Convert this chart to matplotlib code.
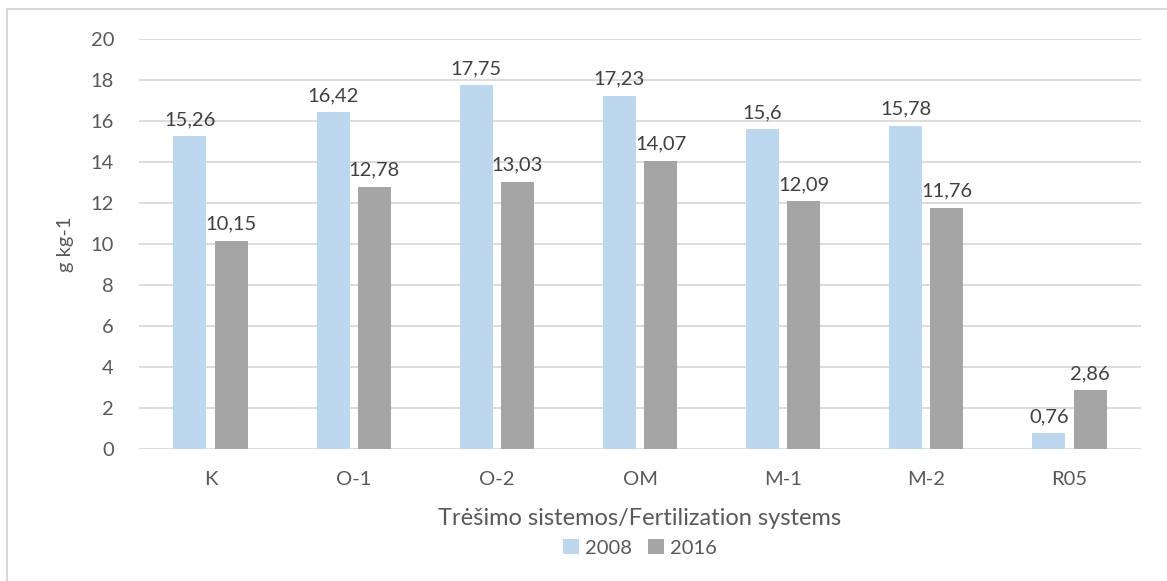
import numpy as np
import matplotlib
matplotlib.use('Agg')
import matplotlib.pyplot as plt
from matplotlib.patches import Rectangle

plt.rcParams['font.family'] = ['Lato', 'DejaVu Sans']

categories = ['K', 'O-1', 'O-2', 'OM', 'M-1', 'M-2', 'R05']
values_2008 = [15.26, 16.42, 17.75, 17.23, 15.6, 15.78, 0.76]
values_2016 = [10.15, 12.78, 13.03, 14.07, 12.09, 11.76, 2.86]
series_names = ['2008', '2016']
y_ticks = [0, 2, 4, 6, 8, 10, 12, 14, 16, 18, 20]

col_2008 = '#BDD7EE'
col_2016 = '#A5A5A5'
txt = '#595959'

def fmt(v):
    # decimal comma like the original
    return ('%g' % v).replace('.', ',')

fig = plt.figure(figsize=(11.67, 5.81), dpi=100)
# chart area border
fig.patches.append(Rectangle((7 / 1167, -0.1), 1.2, 1 - 9 / 581 + 0.1,
                             transform=fig.transFigure, fill=False,
                             edgecolor='#D9D9D9', linewidth=1.5))

ax = fig.add_axes([139 / 1167, 1 - 449 / 581, 1002 / 1167, 410 / 581])

x = np.arange(len(categories))
w = 0.23
off = 0.144
b1 = ax.bar(x - off, values_2008, w, color=col_2008, label=series_names[0], zorder=3)
b2 = ax.bar(x + off, values_2016, w, color=col_2016, label=series_names[1], zorder=3)

for bars, vals in ((b1, values_2008), (b2, values_2016)):
    for r, v in zip(bars, vals):
        ax.text(r.get_x() + r.get_width() / 2, v + 0.4, fmt(v), ha='center',
                va='bottom', fontsize=14.5, color='#404040')

ax.set_xlim(-0.5, len(categories) - 0.5)
ax.set_ylim(0, 20)
ax.set_yticks(y_ticks)
ax.set_xticks(x)
ax.set_xticklabels(categories)
ax.tick_params(axis='both', length=0, labelsize=14.5, colors=txt)
ax.tick_params(axis='x', pad=16)
ax.tick_params(axis='y', pad=18)
ax.grid(axis='y', color='#D9D9D9', linewidth=1.3, zorder=0)
for s in ax.spines.values():
    s.set_visible(False)

ax.set_xlabel('Trėšimo sistemos/Fertilization systems', fontsize=17, color=txt, labelpad=14)
ax.set_ylabel('g kg-1', fontsize=14.5, color=txt, labelpad=12)

ax.legend(loc='upper center', bbox_to_anchor=(0.5, -0.175), ncol=2, frameon=False,
          fontsize=14.5, labelcolor=txt, handlelength=0.8, handleheight=0.8,
          handletextpad=0.3, columnspacing=0.8)

fig.savefig('out.png', dpi=100)
